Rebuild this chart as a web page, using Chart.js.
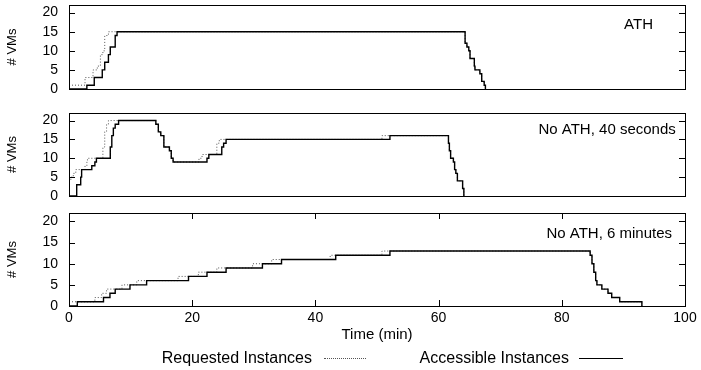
<!DOCTYPE html>
<html>
<head>
<meta charset="utf-8">
<script src="https://cdn.jsdelivr.net/npm/chart.js@4.4.1/dist/chart.umd.min.js"></script>
<style>
  body { margin: 0; background: #fff; }
  #wrap { position: relative; width: 701px; height: 370px; font-family: 'Liberation Sans', Arial, sans-serif; }
  canvas { position: absolute; left: 0; }
  .key { position: absolute; top: 349px; height: 18px; line-height: 18px; font-size: 16px; color: #000; text-align: right; }
  .sample { position: absolute; top: 358px; height: 0; }
</style>
</head>
<body>
<div id="wrap">
  <canvas id="athChart" width="701" height="100" style="top:0"></canvas>
  <canvas id="sec40Chart" width="701" height="105" style="top:100px"></canvas>
  <canvas id="min6Chart" width="701" height="165" style="top:205px"></canvas>
  <div class="key" style="left:140px;width:172px">Requested Instances</div>
  <div class="sample" style="left:324px;width:42px;border-top:1px dotted #555"></div>
  <div class="key" style="left:390px;width:179px">Accessible Instances</div>
  <div class="sample" style="left:579px;width:44px;border-top:1.5px solid #000"></div>
</div>
<script>
// [time (min), # VMs] - each pair is the moment the count changes
const athRequested = [[0, 1], [2.6, 3], [3.9, 5], [4.6, 6], [5.1, 9], [5.5, 10], [5.8, 14], [6.4, 15],
    [64.3, 12], [64.6, 11], [64.9, 10], [65.1, 8], [65.8, 6], [65.9, 5], [66.7, 4], [67.0, 2], [67.4, 1], [67.6, 0]];
const athAccessible = [[0, 0], [2.9, 1], [4.1, 3], [5.4, 5], [5.8, 7], [6.4, 9], [6.7, 11], [7.5, 14], [7.8, 15],
    [64.3, 12], [64.6, 11], [64.9, 10], [65.1, 8], [65.8, 6], [65.9, 5], [66.7, 4], [67.0, 2], [67.4, 1], [67.6, 0]];

const sec40Requested = [[0, 4], [0.3, 5], [0.7, 6], [1.1, 7], [2.6, 8], [2.9, 9], [3.0, 10], [5.5, 13], [5.8, 17], [6.1, 19], [6.4, 20],
    [14.1, 19], [14.5, 17], [14.9, 16], [15.4, 13], [16.3, 12], [16.6, 10], [16.9, 9],
    [21.1, 10], [21.6, 11], [24.0, 14], [24.4, 15], [50.8, 16],
    [61.6, 14], [61.75, 12], [61.95, 10], [62.4, 9], [62.6, 7], [62.8, 6], [63.05, 4], [63.9, 2], [64.1, 0]];
const sec40Accessible = [[0, 0], [1.25, 3], [1.9, 5], [2.05, 7], [3.7, 8], [4.2, 9], [4.45, 10], [6.7, 13], [6.95, 16], [7.2, 18], [7.5, 19], [8.05, 20],
    [14.1, 19], [14.5, 17], [14.9, 16], [15.4, 13], [16.3, 12], [16.6, 10], [16.9, 9],
    [22.4, 10], [22.7, 11], [24.8, 13], [25.1, 14], [25.5, 15], [52.1, 16],
    [61.6, 14], [61.75, 12], [61.95, 10], [62.4, 9], [62.6, 7], [62.8, 6], [63.05, 4], [63.9, 2], [64.1, 0]];

const min6Requested = [[0, 1], [4.2, 2], [5.3, 3], [6.1, 4], [8.6, 5], [11.0, 6], [17.7, 7], [21.0, 8], [24.0, 9], [29.8, 10], [32.9, 11], [42.4, 12], [50.8, 13],
    [84.6, 12], [84.9, 10], [85.2, 8], [85.5, 6], [85.7, 5], [86.5, 4], [87.5, 3], [88.1, 2], [89.4, 1], [93.0, 0]];
const min6Accessible = [[0, 0], [1.35, 1], [5.6, 2], [6.65, 3], [7.5, 4], [9.9, 5], [12.6, 6], [19.4, 7], [22.4, 8], [25.5, 9], [31.4, 10], [34.5, 11], [43.3, 12], [52.1, 13],
    [84.6, 12], [84.9, 10], [85.2, 8], [85.5, 6], [85.7, 5], [86.5, 4], [87.5, 3], [88.1, 2], [89.4, 1], [93.0, 0]];

const xTicks = [0, 20, 40, 60, 80, 100];
const yTicks = [0, 5, 10, 15, 20];

const FONT = "'Liberation Sans', Arial, sans-serif";
const toPoints = pairs => pairs.map(([t, n]) => ({ x: t, y: n }));

// keep the plot box exactly where we put it (no extra room for half labels)
function noLabelPadding(s) {
    s.paddingTop = 0;
    s.paddingBottom = 0;
    s.paddingLeft = 0;
    s.paddingRight = 0;
}

// gnuplot style box with inward ticks + the panel caption
const framePlugin = {
    id: 'frame',
    afterDatasetsDraw(chart, args, opts) {
        const { ctx, chartArea: a, scales } = chart;
        ctx.save();
        ctx.strokeStyle = '#000';
        ctx.lineWidth = 1;
        ctx.beginPath();
        scales.y.ticks.forEach(t => {
            const py = Math.round(scales.y.getPixelForValue(t.value)) + 0.5;
            ctx.moveTo(a.left, py); ctx.lineTo(a.left + 6, py);
            ctx.moveTo(a.right, py); ctx.lineTo(a.right - 6, py);
        });
        if (opts.xMarks) {
            scales.x.ticks.forEach(t => {
                const px = Math.round(scales.x.getPixelForValue(t.value)) + 0.5;
                ctx.moveTo(px, a.bottom); ctx.lineTo(px, a.bottom - 6);
                ctx.moveTo(px, a.top); ctx.lineTo(px, a.top + 6);
            });
        }
        ctx.stroke();
        ctx.strokeRect(Math.round(a.left) + 0.5, Math.round(a.top) + 0.5, Math.round(a.right - a.left), Math.round(a.bottom - a.top));

        ctx.fillStyle = '#000';
        ctx.font = '15px ' + FONT;
        ctx.textAlign = 'right';
        ctx.textBaseline = 'middle';
        ctx.fillText(opts.text, scales.x.getPixelForValue(opts.atX), scales.y.getPixelForValue(opts.atY));
        ctx.restore();
    }
};

function makePanel(id, requested, accessible, cfg) {
    const ctx = document.getElementById(id).getContext('2d');
    return new Chart(ctx, {
        type: 'line',
        data: {
            datasets: [{
                label: 'Accessible Instances',
                data: toPoints(accessible),
                stepped: true,
                borderColor: '#000',
                borderWidth: 1.4,
                pointRadius: 0,
                fill: false
            },
            {
                label: 'Requested Instances',
                data: toPoints(requested),
                stepped: true,
                borderColor: '#555',
                borderWidth: 1,
                borderDash: [1, 2],
                pointRadius: 0,
                fill: false
            }]
        },
        options: {
            responsive: false,
            maintainAspectRatio: false,
            animation: false,
            layout: { padding: { top: cfg.top, right: 16, bottom: 0, left: 0 } },
            plugins: {
                legend: { display: false },
                tooltip: { enabled: false },
                frame: { text: cfg.text, atX: cfg.atX, atY: cfg.atY, xMarks: cfg.xLabels }
            },
            scales: {
                x: {
                    type: 'linear',
                    min: 0,
                    max: 100,
                    afterBuildTicks: s => { s.ticks = xTicks.map(v => ({ value: v })); },
                    afterFit: s => { s.height = cfg.bottom; noLabelPadding(s); },
                    grid: { display: false, drawTicks: false },
                    border: { display: false },
                    ticks: { display: cfg.xLabels, padding: 4, color: '#000', font: { family: FONT, size: 14 } },
                    title: {
                        display: cfg.xLabels,
                        text: 'Time (min)',
                        color: '#000',
                        font: { family: FONT, size: 15 },
                        padding: { top: 0, bottom: 26 }
                    }
                },
                y: {
                    min: 0,
                    max: 22,
                    afterBuildTicks: s => { s.ticks = yTicks.map(v => ({ value: v })); },
                    afterFit: s => { s.width = 69; noLabelPadding(s); },
                    grid: { display: false, drawTicks: false },
                    border: { display: false },
                    ticks: { padding: 11, color: '#000', font: { family: FONT, size: 14 } },
                    title: {
                        display: true,
                        text: '# VMs',
                        color: '#000',
                        font: { family: FONT, size: 13 },
                        padding: { top: 5, bottom: 0 }
                    }
                }
            }
        },
        plugins: [framePlugin]
    });
}

makePanel('athChart', athRequested, athAccessible, { top: 5, bottom: 11, xLabels: false, text: 'ATH', atX: 94.8, atY: 16.8 });
makePanel('sec40Chart', sec40Requested, sec40Accessible, { top: 13, bottom: 9, xLabels: false, text: 'No ATH, 40 seconds', atX: 98.5, atY: 17.6 });
makePanel('min6Chart', min6Requested, min6Accessible, { top: 8, bottom: 64, xLabels: true, text: 'No ATH, 6 minutes', atX: 97.9, atY: 17.1 });
</script>
</body>
</html>
